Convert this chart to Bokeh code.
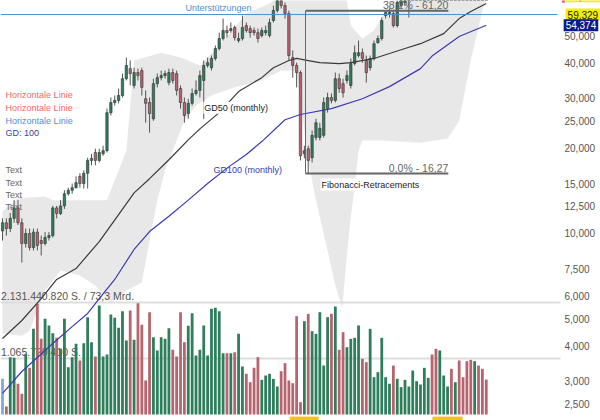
from bokeh.plotting import figure
from bokeh.models import Range1d, LinearScale, FixedTicker
from bokeh.embed import file_html
from bokeh.resources import INLINE
from bokeh.core.properties import value

FONT = "Liberation Sans"
GREEN = "#2e7d5b"
RED = "#b8646e"

# ---------------- data (monthly candles) ----------------
opens = [10.2, 10.9, 10.4, 11.3, 12.3, 10.9, 9.21, 9.99, 8.91, 10.1,
         9.43, 9.21, 9.67, 9.82, 12.3, 11.75, 12.5, 13.8, 14.2, 14.5,
         15.9, 15.0, 16.3, 18.1, 19.3, 18.1, 19.1, 19.6, 26.7, 29.0,
         29.5, 30.7, 35.2, 38.2, 33.3, 37.0, 37.6, 29.9, 29.0, 25.4,
         33.8, 35.5, 36.1, 34.1, 37.0, 36.7, 32.5, 29.0, 26.5, 28.8,
         31.2, 32.0, 34.7, 39.2, 38.5, 41.5, 45.0, 48.8, 52.1, 52.1,
         53.4, 48.0, 48.8, 54.2, 52.9, 52.1, 51.2, 50.0, 51.2, 50.0,
         56.5, 61.3, 66.5, 63.8, 59.8, 41.8, 39.2, 37.0, 19.1, 19.9,
         18.5, 21.8, 21.8, 22.2, 27.6, 30.2, 29.5, 35.2, 33.8, 34.7,
         33.3, 39.8, 42.5, 43.5, 40.8, 38.5, 41.5, 47.2, 48.8, 58.8,
         59.8, 59.8, 54.2, 63.8, 65.4, 69.2, 72, 75, 78, 82,
         85, 88, 84, 81, 86, 90, 94, 91, 95, 92,
         89, 87, 85, 88, 86, 84]
closes = [10.9, 10.4, 11.3, 12.3, 10.9, 9.21, 9.99, 8.91, 10.1, 9.06,
          9.21, 9.67, 9.82, 12.3, 11.75, 12.5, 13.8, 14.2, 14.5, 15.1,
          15.0, 16.3, 18.1, 18.4, 18.1, 19.3, 19.6, 26.7, 29.0, 29.5,
          30.7, 35.2, 39.2, 36.7, 37.0, 36.1, 32.8, 28.8, 26.5, 33.8,
          35.5, 36.1, 36.7, 37.0, 34.7, 32.0, 29.0, 26.1, 28.8, 31.2,
          32.0, 36.1, 39.2, 40.1, 41.5, 45.0, 48.8, 52.1, 51.2, 52.9,
          49.2, 48.8, 53.4, 52.1, 51.2, 51.2, 48.8, 52.1, 52.1, 55.6,
          61.3, 66.5, 63.8, 59.8, 42.5, 39.2, 37.0, 18.8, 19.6, 18.1,
          22.2, 24.6, 23.5, 29.0, 30.2, 29.5, 35.2, 32.5, 31.4, 36.1,
          39.8, 43.5, 43.5, 41.5, 37.0, 41.5, 46.8, 48.8, 56.5, 60.3,
          60.3, 54.2, 65.4, 66.5, 69.2, 72.1, 75, 78, 82, 85,
          88, 84, 81, 86, 90, 94, 91, 95, 92, 89,
          87, 85, 88, 86, 84, 82]
highs = [11.3, 11.3, 11.8, 13.1, 13.1, 11.3, 10.4, 10.4, 10.4, 10.4,
         9.82, 10.1, 10.1, 12.5, 12.5, 13.1, 14.2, 14.5, 15.0, 15.9,
         16.3, 16.7, 18.5, 19.1, 19.9, 19.9, 20.4, 27.6, 30.2, 30.7,
         32.5, 36.7, 41.8, 40.8, 38.5, 38.2, 38.5, 32.0, 30.2, 35.2,
         36.7, 37.6, 37.6, 38.2, 38.2, 37.6, 33.3, 30.2, 29.9, 32.5,
         34.7, 37.6, 40.8, 41.8, 42.5, 46.1, 51.2, 57.4, 54.2, 55.6,
         54.2, 51.2, 58.8, 55.6, 54.2, 53.4, 52.9, 53.4, 54.2, 57.4,
         63.8, 69.2, 69.2, 65.4, 61.3, 44.3, 40.1, 37.6, 20.4, 20.4,
         23.1, 25.4, 24.6, 30.2, 31.4, 31.2, 37.0, 36.7, 35.2, 37.6,
         41.5, 46.1, 48.0, 45.0, 42.5, 42.5, 48.0, 50.0, 57.9, 61.3,
         62.3, 61.3, 66.5, 69.2, 72.1, 75.1, 77, 80, 84, 87,
         90, 90, 86, 88, 92, 96, 96, 97, 97, 94,
         91, 89, 90, 90, 88, 86]
lows = [9.43, 9.82, 10.1, 10.9, 10.7, 7.88, 8.91, 8.70, 8.70, 8.70,
        8.35, 9.06, 9.43, 9.67, 11.3, 11.6, 12.2, 13.6, 13.8, 14.4,
        14.5, 14.4, 14.4, 17.4, 17.4, 17.8, 18.8, 19.3, 26.1, 28.3,
        28.8, 30.2, 34.7, 33.3, 32.5, 34.7, 30.7, 24.6, 22.7, 25.0,
        32.8, 34.7, 35.2, 33.3, 33.8, 30.7, 27.6, 24.6, 25.4, 28.3,
        30.7, 30.2, 25.4, 38.5, 37.6, 40.8, 44.3, 48.0, 49.2, 51.2,
        48.0, 47.2, 48.0, 51.2, 49.2, 50.0, 47.2, 49.2, 50.0, 49.2,
        55.6, 60.3, 62.3, 57.4, 40.8, 35.5, 32.8, 18.1, 18.4, 16.27,
        17.8, 21.3, 21.3, 21.8, 26.7, 28.8, 29.0, 31.4, 30.2, 33.8,
        32.5, 39.2, 41.8, 40.1, 34.1, 37.6, 40.8, 46.8, 48.0, 57.4,
        57.9, 53.4, 53.4, 62.3, 63.8, 57.9, 70, 73, 76, 80,
        83, 82, 79, 79, 84, 88, 89, 89, 90, 87,
        85, 83, 83, 84, 82, 80]
# volume in millions of shares
volume_m = [679, 152, 1091, 1078, 584, 393, 1154, 888, 1630, 2106,
            1440, 1820, 1694, 1548, 1459, 1250, 1820, 901, 1091, 1345,
            1028, 1357, 1852, 1376, 1104, 2074, 1104, 1142, 1903, 1839,
            1649, 1966, 1408, 1979, 1421, 2118, 1706, 647, 1947, 1472,
            1218, 1472, 1440, 1643, 1231, 1104, 1947, 1376, 1687, 1928,
            1123, 1231, 1694, 1123, 2011, 2030, 1966, 1167, 1167, 1167,
            1186, 1535, 913, 774, 615, 888, 1091, 660, 742, 774,
            679, 533, 824, 977, 647, 596, 1871,
            235, 1776, 1916, 1586, 1535, 1947, 932, 1852, 1916, 2055,
            1231, 1567, 1281, 1440, 1459, 1694, 1060, 996, 1630, 710,
            805, 1459, 710, 584, 932, 679, 520, 660, 533, 837,
            634, 571, 888, 698, 1142, 1250, 1218, 742, 533, 869,
            615, 1028, 710, 1015, 1040, 1015, 932, 869, 666]

# moving averages (at candle positions)
gd50_idx = [0, 5, 10, 14, 19, 25, 30, 34, 38, 43, 48, 51, 56, 61, 67, 70, 74, 76,
            79, 82, 87, 90, 96, 100, 104, 108, 114, 118, 121, 125]
gd50_val = [4.25, 4.92, 5.88, 6.87, 7.51, 9.35, 11.65, 13.9, 15.6, 18.2, 21.4, 23.4,
            26.7, 31.7, 35.5, 38.5, 40.8, 41.5, 40.8, 40.1, 39.8, 40.1, 41.5, 43.2,
            45.0, 46.8, 50.8, 57.4, 60.8, 64.9]
gd100_idx = [0, 5, 9, 13, 18, 22, 25, 29, 34, 38, 43, 48, 53, 58, 63, 67, 73, 77,
             85, 93, 100, 108, 111, 118, 125]
gd100_val = [2.72, 3.25, 3.64, 4.08, 4.68, 5.21, 5.88, 6.87, 8.77, 10.15, 11.5, 13.1,
             15.0, 17.0, 19.0, 21.1, 25.2, 26.3, 27.6, 29.9, 33.0, 38.2, 42.3, 49.6,
             54.374]

# envelope band
band_up_idx = [0, 4, 11, 13, 27, 32, 34, 41, 46, 51, 56, 63, 69, 73, 86, 89, 90, 93,
               96, 99, 102, 125]
band_up_val = [12.0, 13.3, 13.5, 13.1, 13.1, 19.6, 40.8, 43.5, 41.8, 39.2, 46.1, 59.8,
               64.9, 72.1, 72.1, 66.5, 54.2, 48.8, 52.1, 61.3, 72.1, 72.1]
band_lo_idx = [0, 5, 7, 11, 15, 20, 24, 28, 32, 36, 38, 40, 42, 45, 47, 50, 54, 60,
               67, 72, 76, 77, 79, 81, 84, 86, 87.8, 88.5, 89.8, 91, 92, 93, 98, 108,
               115, 118, 121, 124, 125]
band_lo_val = [4.42, 4.35, 4.53, 6.28, 7.39, 7.10, 6.54, 5.70, 6.28, 6.70, 9.43, 13.1,
               16.7, 21.3, 25.0, 28.3, 30.7, 32.8, 34.7, 37.6, 37.6, 29.5, 18.1, 13.1,
               8.70, 6.54, 5.42, 7.10, 10.8, 14.6, 19.6, 21.3, 21.3, 20.9, 21.6, 25.0,
               40.8, 61.3, 69.2]

price_ticks = [2.5, 3.0, 4.0, 5.0, 6.0, 7.5, 10.0, 12.5, 15.0, 20.0, 25.0, 30.0, 40.0, 50.0]
price_tick_labels = ["2,500", "3,000", "4,000", "5,000", "6,000", "7,500", "10,000",
                     "12,500", "15,000", "20,000", "25,000", "30,000", "40,000", "50,000"]

support_level = 59.329
gd100_last = 54.374
last_price_label = "68,150"
fib_high = 61.20
fib_low = 16.27
fib_start, fib_end = 78.3, 115.2
vol_levels = [2131.44082, 1065.72041]
vol_level_labels = ["2.131.440.820 S. / 73,3 Mrd.", "1.065.720.410 S."]
event_start = [74.2, 111.1]
event_end = [81.7, 118.9]

# ---------------- figure ----------------
X0, X1 = -0.517, 154.52          # x range (frame spans the whole width)
LINE_END = 144.2                 # where the horizontal guide lines stop

N = len(opens)
idx = list(range(N))
up = [c >= o for o, c in zip(opens, closes)]
body_top = [max(o, c) for o, c in zip(opens, closes)]
body_bot = [min(o, c) for o, c in zip(opens, closes)]
colors = [GREEN if u else RED for u in up]
vol_colors = list(colors)
vol_colors[0] = "#7fa8e0"

p = figure(width=600, height=420, y_axis_type="log", y_axis_location="right",
           x_axis_location=None,
           x_range=Range1d(X0, X1), y_range=Range1d(2.181, 66.5),
           output_backend="svg", toolbar_location=None,
           min_border_left=0, min_border_right=0, min_border_top=0, min_border_bottom=0)
p.xgrid.visible = False
p.ygrid.visible = False
p.outline_line_color = None
p.background_fill_color = "white"
p.extra_y_ranges = {"vol": Range1d(-114.2, 7879)}
p.extra_y_scales = {"vol": LinearScale()}

ax = p.yaxis[0]
ax.ticker = FixedTicker(ticks=price_ticks)
ax.major_label_overrides = {t: l for t, l in zip(price_ticks, price_tick_labels)}
ax.axis_line_color = None
ax.major_tick_line_color = None
ax.minor_tick_line_color = None
ax.major_tick_out = 0
ax.major_tick_in = 0
ax.minor_tick_out = 0
ax.minor_tick_in = 0
ax.major_label_text_font = FONT
ax.major_label_text_font_size = "10px"
ax.major_label_text_color = "#555555"
ax.major_label_standoff = -36

# band
p.patch(band_up_idx + band_lo_idx[::-1], band_up_val + band_lo_val[::-1],
        fill_color="#e8e8e8", line_color=None)

# volume level lines and texts
for lv, lt in zip(vol_levels, vol_level_labels):
    p.segment(x0=[X0], x1=[LINE_END], y0=[lv], y1=[lv], y_range_name="vol",
              line_color="#dddddd", line_width=2)
    p.text(x=[-0.4], y=[lv], text=[lt], y_range_name="vol", text_font=value(FONT),
           text_font_size="10.5px", text_color="#555555", text_baseline="bottom",
           y_offset=-1)

# volume bars
p.vbar(x=idx, top=volume_m, bottom=0, width=0.72, y_range_name="vol",
       fill_color=vol_colors, line_color=None)

# event markers
p.quad(left=event_start, right=event_end, bottom=[-114.2] * 2, top=[-40] * 2,
       y_range_name="vol", fill_color="#f5c21b", line_color=None)

# candles
p.segment(x0=idx, x1=idx, y0=lows, y1=highs, line_color="#555555", line_width=1)
p.vbar(x=idx, top=body_top, bottom=body_bot, width=0.62, fill_color=colors,
       line_color="#333333", line_width=0.6)

# moving averages
p.line(gd50_idx, gd50_val, line_color="#3a3a3a", line_width=1.2)
p.line(gd100_idx, gd100_val, line_color="#3b3bb0", line_width=1.2)

# support line
p.segment(x0=[X0], x1=[143.4], y0=[support_level], y1=[support_level],
          line_color="#4a90d9", line_width=1)
p.text(x=[47.3], y=[support_level], text=["Unterstützungen"], text_font=value(FONT),
       text_font_size="9px", text_color="#4a90d9", text_baseline="bottom", y_offset=-2)

# fibonacci
p.segment(x0=[fib_start, fib_start], x1=[fib_end, fib_end], y0=[fib_high, fib_low],
          y1=[fib_high, fib_low], line_color="#666666", line_width=2)
p.segment(x0=[fib_start], x1=[fib_start], y0=[fib_low], y1=[fib_high],
          line_color="#666666", line_width=1)
p.text(x=[fib_end, fib_end], y=[fib_high, fib_low],
       text=["38,2% - 61,20", "0,0% - 16,27"], text_font=value(FONT),
       text_font_size="10.5px", text_color="#666666", text_align="right",
       text_baseline="bottom", y_offset=0)
p.text(x=[fib_start + 3.9], y=[fib_low], text=["Fibonacci-Retracements"],
       text_font=value(FONT), text_font_size="9px", text_color="#222222",
       text_baseline="top", y_offset=5, background_fill_color="white", padding=1)

# MA labels
p.text(x=[51.9], y=[27.8], text=["GD50 (monthly)"], text_font=value(FONT),
       text_font_size="9px", text_color="#222222", text_baseline="middle",
       background_fill_color="white", padding=1)
p.text(x=[54.5], y=[16.8], text=["GD100 (monthly)"], text_font=value(FONT),
       text_font_size="9px", text_color="#3b3bb0", text_baseline="middle")

# left-side legend texts
p.text(x=[0.8, 0.8], y=[30.7, 27.8], text=["Horizontale Linie", "Horizontale Linie"],
       text_font=value(FONT), text_font_size="9px", text_color="#ee6b6b",
       text_baseline="middle")
p.text(x=[0.8], y=[25.0], text=["Horizontale Linie"], text_font=value(FONT),
       text_font_size="9px", text_color="#4a90d9", text_baseline="middle")
p.text(x=[0.8], y=[22.7], text=["GD: 100"], text_font=value(FONT),
       text_font_size="9px", text_color="#3b3bb0", text_baseline="middle")
p.text(x=[0.8] * 4, y=[16.7, 15.1, 13.7, 12.4], text=["Text"] * 4,
       text_font=value(FONT), text_font_size="9px", text_color="#666666",
       text_baseline="middle")

# right-side value boxes
p.text(x=[145.5], y=[68.8], text=[last_price_label], text_font=value(FONT),
       text_font_size="10px", text_color="#222222", text_baseline="middle",
       background_fill_color="#f2ef00", padding=2)
p.quad(left=[144.6], right=[145.3], bottom=[65.3], top=[70.0], fill_color="#e05a6a",
       line_color=None)
p.text(x=[145.5], y=[support_level], text=["59,329"], text_font=value(FONT),
       text_font_size="10px", text_color="#222222", text_baseline="middle",
       background_fill_color="#f2ef00", padding=2)
p.text(x=[145.0], y=[gd100_last], text=["54,374"], text_font=value(FONT),
       text_font_size="10px", text_color="white", text_baseline="middle",
       background_fill_color="#0b1a8c", padding=2)

open("out.html", "w").write(file_html(p, INLINE))
